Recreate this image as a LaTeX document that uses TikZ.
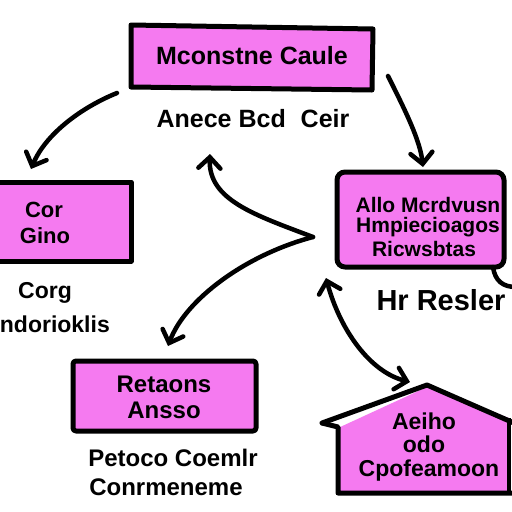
\documentclass[tikz,border=0pt]{standalone}
\usepackage{fontspec}
\setmainfont{Liberation Sans}
\usetikzlibrary{arrows.meta}
\definecolor{boxpink}{RGB}{245,122,240}
\tikzset{
  boxline/.style={draw=black, line width=5pt, fill=boxpink, line join=round},
  conn/.style={draw=black, line width=4.5pt, line cap=round,
    -{Straight Barb[length=11pt,width=22pt,line width=4.5pt,line cap=round]}},
  bconn/.style={draw=black, line width=4.5pt, line cap=round,
    {Straight Barb[length=11pt,width=22pt,line width=4.5pt,line cap=round]}-{Straight Barb[length=11pt,width=22pt,line width=4.5pt,line cap=round]}},
  txt/.style={font=\bfseries\fontsize{24}{24}\selectfont, inner sep=0pt, text=black},
  btxt/.style={font=\bfseries\fontsize{21}{21}\selectfont, inner sep=0pt, text=black}
}
\begin{document}
\begin{tikzpicture}[x=1pt,y=-1pt]
\useasboundingbox (0,0) rectangle (512,512);
\fill[white] (0,0) rectangle (512,512);

% top box (slightly skewed)
\draw[boxline] (131,25) -- (373,29) -- (372,90) -- (131,87) -- cycle;
\node[txt, font=\bfseries\fontsize{25}{25}\selectfont] (top) at (252,56) {Mconstne Caule};
\node[txt, font=\bfseries\fontsize{25}{25}\selectfont] (toplab) at (253,119) {Anece Bcd\hspace{8pt} Ceir};

% left box
\draw[boxline] (-6,182) -- (131,182) -- (131,261) -- (-6,261) -- cycle;
\node[txt, font=\bfseries\fontsize{22}{22}\selectfont] (l1) at (44,210) {Cor};
\node[txt, font=\bfseries\fontsize{22}{22}\selectfont] (l2) at (45,236) {Gino};
\node[txt, font=\bfseries\fontsize{23}{23}\selectfont] (ll1) at (45,293) {Corg};
\node[txt, font=\bfseries\fontsize{23}{23}\selectfont, anchor=east] (ll2) at (110,324) {ndorioklis};

% right box
\draw[boxline, rounded corners=8pt] (337,172) rectangle (504,267);
\draw[black, line width=4.5pt, line cap=round] (493,267) .. controls (495,281) and (503,287) .. (516,287);
\node[btxt] (r1) at (428,205) {Allo Mcrdvusn};
\node[btxt] (r2) at (428,227) {Hmpiecioagos};
\node[btxt] (r3) at (424,249) {Ricwsbtas};
\node[txt, font=\bfseries\fontsize{29}{29}\selectfont] (rl) at (441,300) {Hr Resler};

% bottom-left box
\draw[boxline, rounded corners=3pt] (73,361) rectangle (256,431);
\node[txt] (b1) at (164,384) {Retaons};
\node[txt] (b2) at (164,410) {Ansso};
\node[txt] (bl1) at (173,458) {Petoco Coemlr};
\node[txt] (bl2) at (166,487) {Conrmeneme};

% house
\fill[boxpink] (338,428) -- (427,387) -- (509,418) -- (509,493) -- (338,493) -- cycle;
\draw[black, line width=5pt, line join=round, line cap=round] (322,423) -- (427,385) -- (530,430);
\draw[black, line width=5pt, line join=round] (322,423) -- (338,427) -- (338,493) -- (512,493);
\draw[black, line width=4pt] (509,418) -- (509,493);
\node[txt, font=\bfseries\fontsize{23}{23}\selectfont] (h1) at (424,421) {Aeiho};
\node[txt, font=\bfseries\fontsize{23}{23}\selectfont] (h2) at (424,444) {odo};
\node[txt, font=\bfseries\fontsize{23}{23}\selectfont] (h3) at (429,471) {Cpofeamoon};

% connector anchor points
\coordinate (a1s) at (117,93);
\coordinate (a1e) at (31,169);
\coordinate (a2s) at (388,76);
\coordinate (a2e) at (423,167);
\coordinate (v) at (313,237);
\coordinate (a3e) at (210,154);
\coordinate (a4e) at (168,346);
\coordinate (a5s) at (326,278);
\coordinate (a5e) at (410,382);

\draw[conn] (a1s) .. controls (80,108) and (45,135) .. (a1e);
\draw[conn] (a2s) .. controls (405,110) and (420,140) .. (a2e);
\draw[conn] (v) .. controls (255,215) and (208,200) .. (a3e);
\draw[conn] (v) .. controls (245,255) and (185,300) .. (a4e);
\draw[bconn] (a5s) .. controls (340,330) and (370,372) .. (a5e);
\end{tikzpicture}
\end{document}
